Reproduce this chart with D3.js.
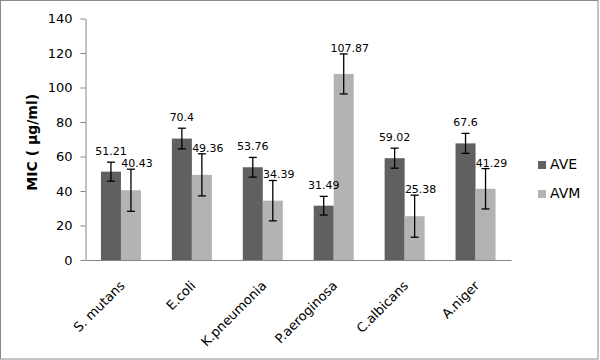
<!DOCTYPE html>
<html><head><meta charset="utf-8">
<script src="https://cdn.jsdelivr.net/npm/d3@7"></script>
<style>body{margin:0;background:#fff}svg{display:block}</style>
</head><body>
<svg id="c" width="600" height="360"></svg>
<script>
const categories = ["S. mutans","E.coli","K.pneumonia","P.aeroginosa","C.albicans","A.niger"];
const seriesNames = ["AVE","AVM"];
const aveValues = [51.21,70.4,53.76,31.49,59.02,67.6];
const avmValues = [40.43,49.36,34.39,107.87,25.38,41.29];
const aveErrors = [5.5,6.0,5.7,5.4,5.8,5.8];
const avmErrors = [12.2,12.2,11.7,11.6,12.2,11.7];
const yTicks = [0,20,40,60,80,100,120,140];

const colors = {AVE:"#606060", AVM:"#b3b3b3"};
const svg = d3.select("#c");
const font = "DejaVu Sans, Verdana, sans-serif";

svg.append("rect").attr("x",0.5).attr("y",0.5).attr("width",597.5).attr("height",358.5)
  .attr("fill","#fff").attr("stroke","#8a8a8a");

const x0 = 85.5, x1 = 511, yTop = 18.5, yBot = 260;
const x = d3.scaleBand().domain(categories).range([x0, x1]).paddingInner(0).paddingOuter(0);
const y = d3.scaleLinear().domain([0,140]).range([yBot, yTop]);
const barW = 20;
const inner = d3.scaleBand().domain(seriesNames).range([-barW, barW]);

const data = categories.map((c,i)=>({c, vals:[
  {s:"AVE", v:aveValues[i], e:aveErrors[i]},
  {s:"AVM", v:avmValues[i], e:avmErrors[i]}]}));

// y axis
const yAxis = svg.append("g").attr("transform",`translate(${x0},0)`)
  .call(d3.axisLeft(y).tickValues(yTicks).tickSize(5).tickPadding(8).tickSizeOuter(0));
yAxis.select(".domain").attr("stroke","#868686");
yAxis.selectAll(".tick line").attr("stroke","#868686");
yAxis.selectAll("text").attr("font-family",font).attr("font-size",13).attr("fill","#000");

// bars
const g = svg.append("g");
const groups = g.selectAll("g.cat").data(data).join("g")
  .attr("transform",d=>`translate(${x(d.c)+x.bandwidth()/2},0)`);
groups.selectAll("rect").data(d=>d.vals).join("rect")
  .attr("x",d=>inner(d.s)).attr("width",inner.bandwidth())
  .attr("y",d=>y(d.v)).attr("height",d=>y(0)-y(d.v))
  .attr("fill",d=>colors[d.s]);

// x axis
const xAxis = svg.append("g").attr("transform",`translate(0,${yBot})`)
  .call(d3.axisBottom(x).tickSize(0).tickSizeOuter(0).tickFormat(""));
xAxis.select(".domain").attr("stroke","#868686");

// error bars
const eb = groups.selectAll("g.err").data(d=>d.vals).join("g").attr("class","err")
  .attr("transform",d=>`translate(${inner(d.s)+inner.bandwidth()/2},0)`);
eb.append("line").attr("x1",0).attr("x2",0).attr("y1",d=>y(d.v+d.e)).attr("y2",d=>y(d.v-d.e))
  .attr("stroke","#000").attr("stroke-width",1.3);
eb.append("line").attr("x1",-4).attr("x2",4).attr("y1",d=>y(d.v+d.e)).attr("y2",d=>y(d.v+d.e))
  .attr("stroke","#000").attr("stroke-width",1.3);
eb.append("line").attr("x1",-4).attr("x2",4).attr("y1",d=>y(d.v-d.e)).attr("y2",d=>y(d.v-d.e))
  .attr("stroke","#000").attr("stroke-width",1.3);

// data labels
eb.append("text").attr("x",d=>d.s==="AVM"?6:0).attr("y",d=>y(d.v+d.e)-(d.s==="AVM"?5:10))
  .attr("text-anchor","middle").attr("dominant-baseline","middle")
  .attr("font-family",font).attr("font-size",11).attr("fill","#000")
  .text(d=>d.v);

// category labels
svg.append("g").selectAll("text").data(categories).join("text")
  .attr("transform",d=>`translate(${x(d)+x.bandwidth()/2+2},${yBot+24}) rotate(-45)`)
  .attr("text-anchor","end").attr("dominant-baseline","middle")
  .attr("font-family",font).attr("font-size",13).attr("fill","#000")
  .text(d=>d);

// y title
svg.append("text").attr("transform",`translate(33,${(yTop+yBot)/2+3}) rotate(-90)`)
  .attr("text-anchor","middle").attr("dominant-baseline","middle")
  .attr("font-family",font).attr("font-size",14).attr("font-weight","bold").attr("fill","#000")
  .text("MIC ( µg/ml)");

// legend
const leg = svg.append("g").selectAll("g").data(seriesNames).join("g")
  .attr("transform",(d,i)=>`translate(538,${161+i*29})`);
leg.append("rect").attr("width",8).attr("height",8).attr("fill",d=>colors[d]);
leg.append("text").attr("x",12).attr("y",4).attr("dominant-baseline","middle")
  .attr("font-family",font).attr("font-size",14).attr("fill","#000").text(d=>d);
</script>
</body></html>
